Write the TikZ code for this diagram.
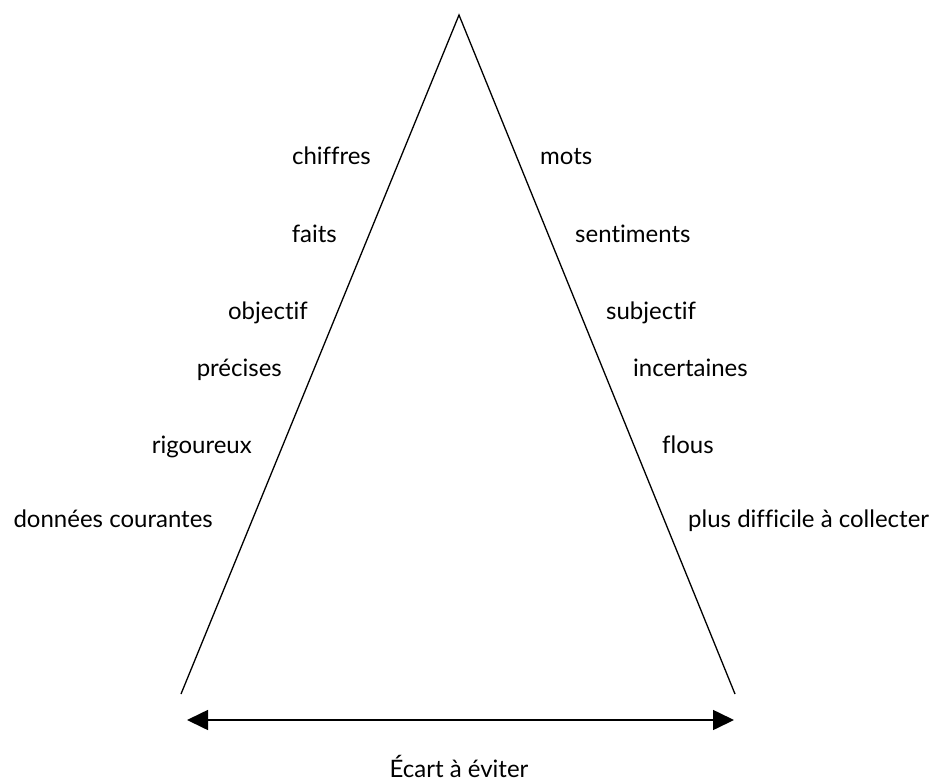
\documentclass[tikz,border=0pt]{standalone}
\usepackage{fontspec}
\setmainfont{Lato}[Ligatures={NoCommon,NoRare}]
\usetikzlibrary{arrows.meta}

\begin{document}
\begin{tikzpicture}[x=1pt,y=-1pt]
\tikzset{every node/.style={inner sep=0pt,font=\fontsize{24}{28}\selectfont}}
\tikzset{leftword/.style={anchor=base east}}
\tikzset{rightword/.style={anchor=base west}}
\tikzset{side/.style={line width=1.3pt}}

\useasboundingbox (0,0) rectangle (933,783);

\coordinate (apex) at (459,15);
\coordinate (baseL) at (181,694);
\coordinate (baseR) at (735,694);
\draw[side] (baseL) -- (apex) -- (baseR);

\node[leftword] (chiffres) at (371,165) {chiffres};
\node[leftword] (faits) at (337,243) {faits};
\node[leftword] (objectif) at (308,319) {objectif};
\node[leftword] (precises) at (282,376) {précises};
\node[leftword] (rigoureux) at (252,453) {rigoureux};
\node[leftword] (donnees) at (213,527) {données courantes};

\node[rightword] (mots) at (540,165) {mots};
\node[rightword] (sentiments) at (575,243) {sentiments};
\node[rightword] (subjectif) at (606,319) {subjectif};
\node[rightword] (incertaines) at (633,376) {incertaines};
\node[rightword] (flous) at (662,453) {flous};
\node[rightword] (difficile) at (688,527) {plus difficile à collecter};

\coordinate (ecartL) at (187,720);
\coordinate (ecartR) at (734,720);
\draw[line width=1.6pt,{Triangle[length=21pt,width=20pt]}-{Triangle[length=21pt,width=20pt]}] (ecartL) -- (ecartR);
\node[anchor=base] (ecart) at (459,777) {Écart à éviter};

\end{tikzpicture}
\end{document}
